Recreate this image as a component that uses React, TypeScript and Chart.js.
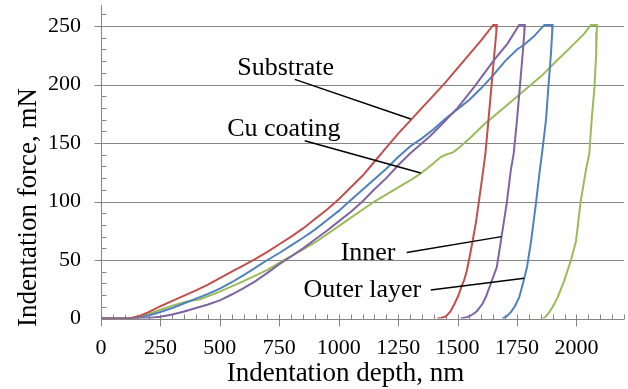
import React, { useEffect, useRef } from "react";
import { Chart, registerables } from "chart.js";
Chart.register(...registerables);

// Substrate (red)
const substrateDepth = [0, 100, 130, 160, 200, 250, 300, 350, 400, 450, 500, 550, 600, 650, 700, 750, 800, 850, 900, 950, 1000, 1050, 1100, 1150, 1200, 1250, 1300, 1350, 1400, 1450, 1500, 1550, 1600, 1650, 1665,
  1663, 1655, 1643, 1630, 1617, 1608, 1589, 1577, 1563, 1551, 1539, 1528, 1516, 1502, 1487, 1470, 1452, 1432, 1415];
const substrateForce = [0, 0, 0.5, 2, 5.5, 10.5, 15, 19.5, 24, 29, 34.5, 40, 45.5, 51, 57, 63.5, 70, 77, 85, 93, 102, 112, 122, 134, 146, 158, 169, 180, 191, 202, 214, 226, 238, 251, 251,
  245, 227, 200, 170, 141, 127, 99, 82, 66, 53, 41, 33, 27, 19, 12.6, 6, 2, 0.5, 0];

// Outer layer (blue)
const outerDepth = [0, 130, 170, 200, 250, 300, 350, 400, 450, 500, 550, 600, 650, 700, 750, 800, 850, 900, 950, 1000, 1050, 1100, 1150, 1200, 1250, 1300, 1350, 1400, 1450, 1500, 1550, 1600, 1650, 1700, 1750, 1780, 1820, 1865, 1900,
  1898, 1893, 1882, 1872, 1855, 1846, 1830, 1809, 1792, 1780, 1759, 1740, 1724, 1705, 1689];
const outerForce = [0, 0, 1, 2.5, 5.5, 9, 13, 17, 21, 25.5, 31, 37, 43.5, 50, 56, 62.5, 69, 76, 84, 92, 101, 110, 119, 128, 138, 147, 154, 162, 171, 179, 187, 197, 208, 220, 230, 234, 241, 251, 251,
  245, 227, 198, 170, 141, 127, 99, 66, 44, 34, 18, 10, 5.4, 1.5, 0];

// Inner (purple)
const innerDepth = [0, 150, 200, 250, 300, 350, 400, 450, 500, 550, 600, 650, 700, 750, 800, 850, 900, 950, 1000, 1050, 1100, 1148, 1200, 1250, 1300, 1385, 1429, 1500, 1570, 1654, 1710, 1759, 1783,
  1781, 1774, 1762, 1750, 1736, 1724, 1707, 1685, 1665, 1640, 1620, 1605, 1580, 1556, 1535, 1513];
const innerForce = [0, 0, 0.5, 1.5, 3.5, 6, 9, 12, 15.5, 20.5, 26, 32, 39, 46.5, 53, 60, 67.5, 75, 83, 91, 100, 110, 120, 131, 141, 156, 165, 180, 198, 221, 235, 251, 251,
  245, 227, 198, 170, 141, 127, 99, 70, 44, 30, 19, 12.6, 6, 2.6, 0.8, 0];

// Cu coating (green)
const cuDepth = [0, 120, 150, 200, 250, 300, 350, 417, 500, 600, 700, 769, 850, 900, 979, 1050, 1100, 1150, 1233, 1300, 1345, 1400, 1429, 1450, 1480, 1500, 1556, 1612, 1700, 1780, 1851, 1920, 1991, 2030, 2061, 2087,
  2085, 2083, 2076, 2064, 2054, 2040, 2017, 1998, 1977, 1949, 1921, 1900, 1886, 1870, 1858];
const cuForce = [0, 0, 1.5, 4, 7.5, 11, 14, 16.5, 23, 32, 41.5, 50, 59, 65, 76, 86, 93, 100, 110, 118, 124, 133, 138, 140, 142, 145, 155, 166, 181, 195, 207, 221, 235, 243, 251, 251,
  245, 227, 198, 170, 141, 127, 99, 66, 50, 32.6, 18, 10, 5.4, 1.5, 0];

// Tick labels
const xTickValues = [0, 250, 500, 750, 1000, 1250, 1500, 1750, 2000];
const yTickValues = [0, 50, 100, 150, 200, 250];

// Annotation labels: text anchor (depth, force) and leader line (from -> to) in data units
const annotationTexts = ["Substrate", "Cu coating", "Inner", "Outer layer"];
const annotationTextDepth = [573, 531, 1008, 852];
const annotationTextForce = [207.8, 155.8, 50.1, 18.2];
const leaderFromDepth = [815, 857, 1286, 1387];
const leaderFromForce = [204.4, 152, 56.4, 24.4];
const leaderToDepth = [1303, 1345, 1685, 1780];
const leaderToForce = [170.5, 124.4, 70, 34.4];

const xTitle = "Indentation depth, nm";
const yTitle = "Indentation force, mN";

const AXIS = "#868686";
const SERIF = "'Liberation Serif', 'Times New Roman', serif";

function pts(xs: number[], ys: number[]) {
  return xs.map((x, i) => ({ x, y: ys[i] }));
}

const decorPlugin = {
  id: "decor",
  beforeDatasetsDraw(chart: any) {
    const ctx = chart.ctx;
    const xs = chart.scales.x;
    const ys = chart.scales.y;
    const ca = chart.chartArea;
    const y0 = Math.round(ys.getPixelForValue(0)) + 0.5;
    const xl = Math.round(ca.left) + 0.5;
    ctx.save();
    ctx.strokeStyle = AXIS;
    ctx.lineWidth = 1;
    ctx.beginPath();
    for (const v of yTickValues) {
      const p = Math.round(ys.getPixelForValue(v)) + 0.5;
      ctx.moveTo(ca.left, p);
      ctx.lineTo(ca.right, p);
    }
    ctx.moveTo(xl, ca.top);
    ctx.lineTo(xl, y0);
    for (let v = 10; v <= ys.max; v += 10) {
      const p = Math.round(ys.getPixelForValue(v)) + 0.5;
      if (v % 50 === 0) {
        ctx.moveTo(xl - 7, p);
        ctx.lineTo(xl + 5, p);
      } else {
        ctx.moveTo(xl, p);
        ctx.lineTo(xl + 5, p);
      }
    }
    for (let v = 0; v <= xs.max; v += 50) {
      const p = Math.round(xs.getPixelForValue(v)) + 0.5;
      if (v % 250 === 0) {
        ctx.moveTo(p, y0 - 5);
        ctx.lineTo(p, y0 + 7);
      } else {
        ctx.moveTo(p, y0 - 5);
        ctx.lineTo(p, y0);
      }
    }
    ctx.stroke();
    ctx.restore();
  },
  afterDatasetsDraw(chart: any) {
    const ctx = chart.ctx;
    const xs = chart.scales.x;
    const ys = chart.scales.y;
    ctx.save();
    ctx.strokeStyle = "#000";
    ctx.lineWidth = 1.5;
    for (let i = 0; i < annotationTexts.length; i++) {
      ctx.beginPath();
      ctx.moveTo(xs.getPixelForValue(leaderFromDepth[i]), ys.getPixelForValue(leaderFromForce[i]));
      ctx.lineTo(xs.getPixelForValue(leaderToDepth[i]), ys.getPixelForValue(leaderToForce[i]));
      ctx.stroke();
    }
    ctx.fillStyle = "#000";
    ctx.font = "26px " + SERIF;
    ctx.textAlign = "left";
    ctx.textBaseline = "alphabetic";
    for (let i = 0; i < annotationTexts.length; i++) {
      ctx.fillText(annotationTexts[i], xs.getPixelForValue(annotationTextDepth[i]), ys.getPixelForValue(annotationTextForce[i]));
    }
    ctx.font = "27px " + SERIF;
    ctx.textAlign = "center";
    ctx.fillText(xTitle, 345.5, 381);
    ctx.translate(35.5, 207.5);
    ctx.rotate(-Math.PI / 2);
    ctx.fillText(yTitle, 0, 0);
    ctx.restore();
  },
};

export default function App() {
  const ref = useRef<HTMLCanvasElement | null>(null);
  useEffect(() => {
    document.body.style.margin = "0";
    const c = ref.current!;
    const mk = (label: string, xs: number[], ys: number[], color: string) => ({
      label,
      data: pts(xs, ys),
      borderColor: color,
      backgroundColor: color,
      borderWidth: 2,
      pointRadius: 0,
      showLine: true,
      tension: 0,
      fill: false,
    });
    const chart = new Chart(c, {
      type: "scatter",
      data: {
        datasets: [
          mk("Inner", innerDepth, innerForce, "#8064A2"),
          mk("Substrate", substrateDepth, substrateForce, "#C0504D"),
          mk("Outer layer", outerDepth, outerForce, "#4F81BD"),
          mk("Cu coating", cuDepth, cuForce, "#9BBB59"),
        ],
      },
      options: {
        animation: false,
        responsive: false,
        devicePixelRatio: 1,
        layout: { padding: { top: 5, right: 4, left: 0, bottom: 0 } },
        plugins: { legend: { display: false }, tooltip: { enabled: false } },
        scales: {
          x: {
            type: "linear",
            min: 0,
            max: 2200,
            afterBuildTicks: (s: any) => { s.ticks = xTickValues.map((v) => ({ value: v })); },
            afterFit: (s: any) => { s.height = 70.5; s.paddingLeft = 0; s.paddingRight = 0; },
            ticks: {
              autoSkip: false,
              maxRotation: 0,
              minRotation: 0,
              padding: 17,
              color: "#000",
              font: { family: SERIF, size: 22 },
              callback: (v: any) => String(v),
            },
            grid: { display: false, drawTicks: false },
            border: { display: false },
          },
          y: {
            type: "linear",
            min: 0,
            max: 268,
            afterBuildTicks: (s: any) => { s.ticks = yTickValues.map((v) => ({ value: v })); },
            afterFit: (s: any) => { s.width = 101; s.paddingTop = 0; s.paddingBottom = 0; },
            ticks: {
              autoSkip: false,
              padding: 20,
              color: "#000",
              font: { family: SERIF, size: 22 },
              callback: (v: any) => String(v),
            },
            grid: { display: false, drawTicks: false },
            border: { display: false },
          },
        },
      },
      plugins: [decorPlugin],
    } as any);
    return () => chart.destroy();
  }, []);
  return (
    <div style={{ position: "absolute", left: 0, top: 0, width: 628, height: 389, background: "#fff" }}>
      <canvas ref={ref} width={628} height={389} />
    </div>
  );
}
